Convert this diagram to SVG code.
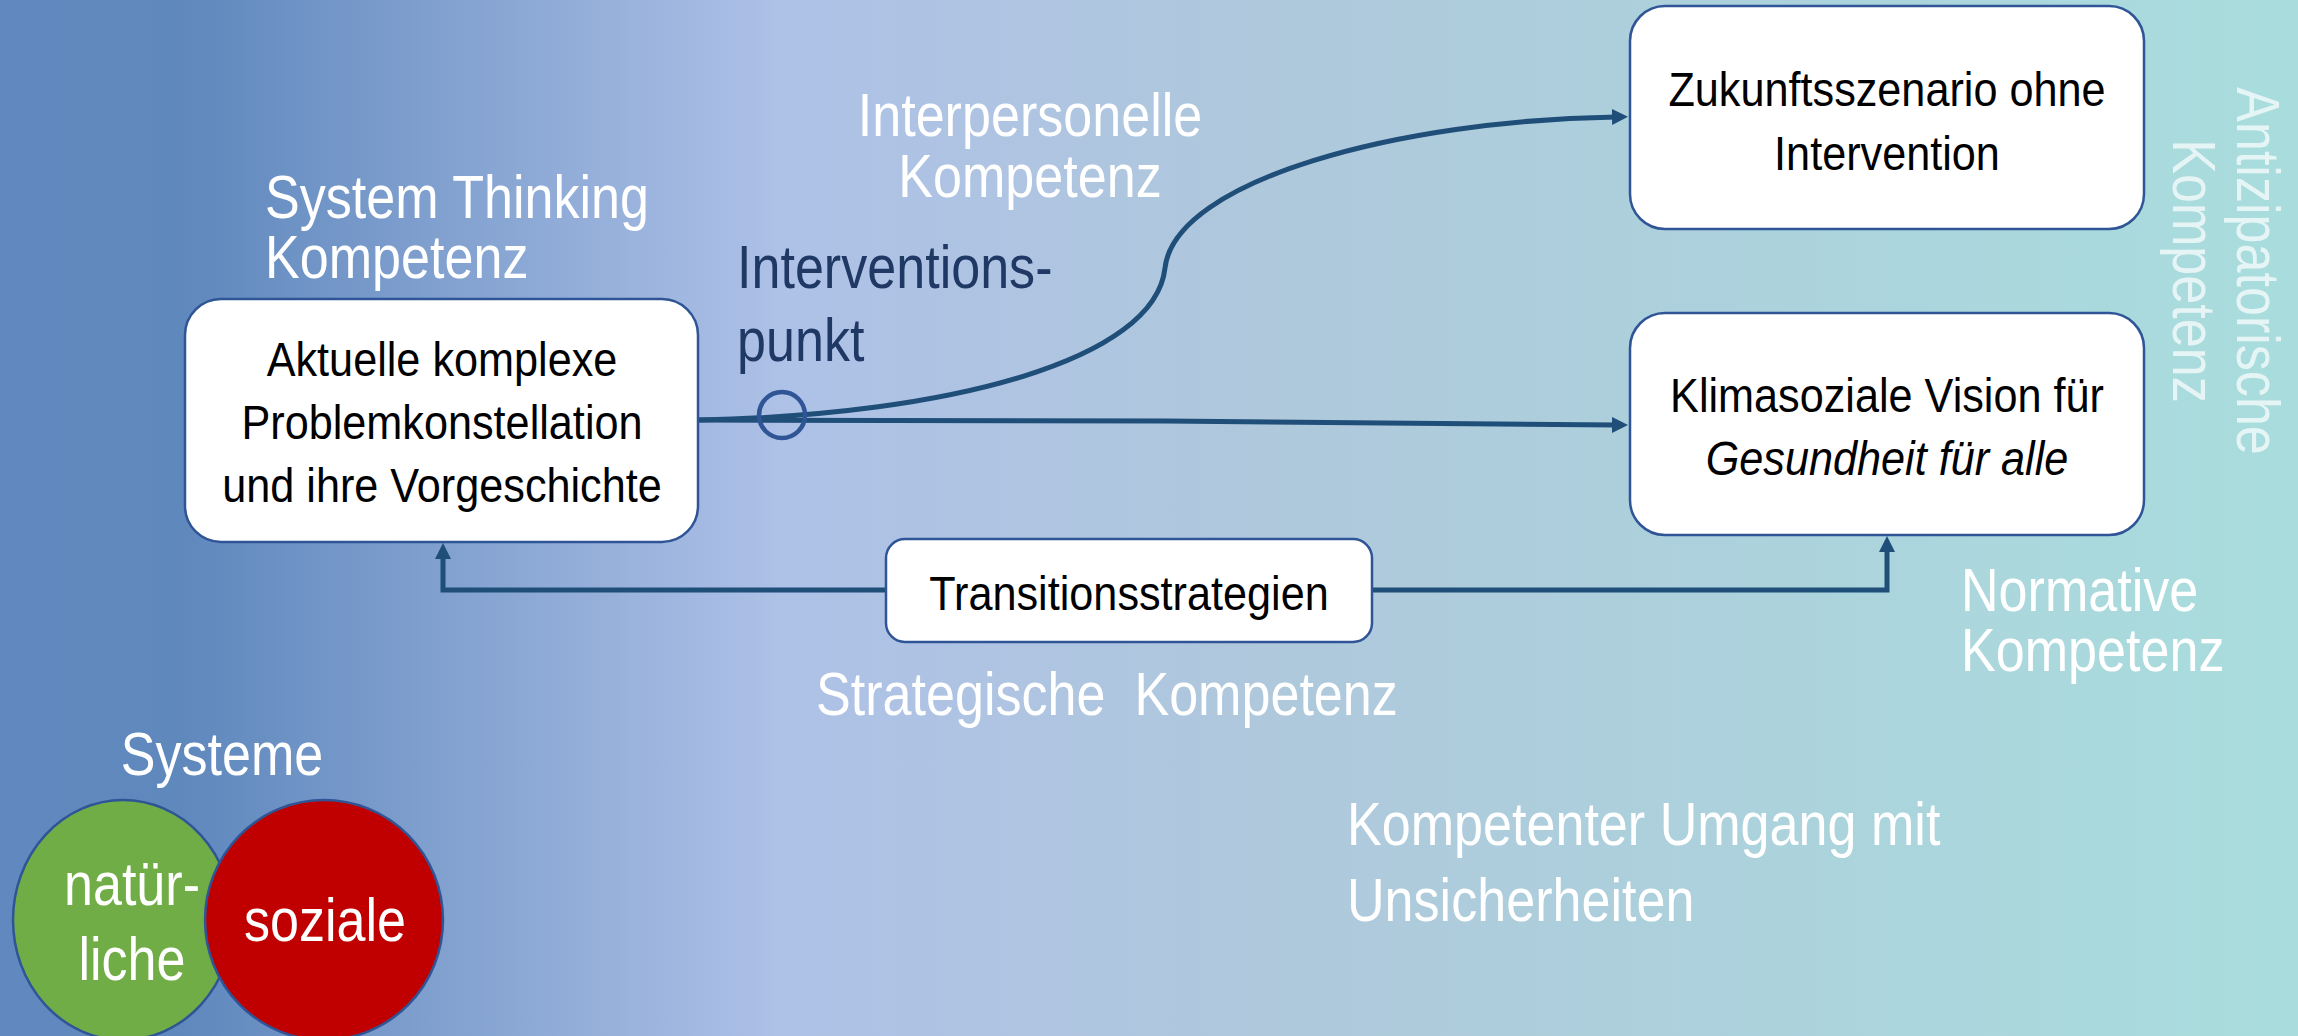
<svg xmlns="http://www.w3.org/2000/svg" width="2298" height="1036" viewBox="0 0 2298 1036">
<defs>
<linearGradient id="bg" x1="0" y1="0" x2="1" y2="0">
<stop offset="0" stop-color="#6189bf"/>
<stop offset="0.08" stop-color="#5f88bd"/>
<stop offset="0.34" stop-color="#aec1e7"/>
<stop offset="0.55" stop-color="#afc8dc"/>
<stop offset="1" stop-color="#a9dddd"/>
</linearGradient>
<marker id="arr" viewBox="0 0 16 16" refX="4" refY="8" markerWidth="16" markerHeight="16" markerUnits="userSpaceOnUse" orient="auto">
<path d="M0,0 L16,8 L0,16 z" fill="#1f4e79"/>
</marker>
<style>
.box{fill:#ffffff;stroke:#2f5597;stroke-width:2.5}
.bt{font-family:"Liberation Sans",Arial,sans-serif;font-size:49px;fill:#000000}
.lbl{font-family:"Liberation Sans",Arial,sans-serif;font-size:62px;fill:#ffffff}
.navy{fill:#203864}
.con{fill:none;stroke:#1f4e79;stroke-width:5}
.circ{stroke:#2f5597;stroke-width:2.5}
</style>
</defs>
<rect x="0" y="0" width="2298" height="1036" fill="url(#bg)"/>

<g id="connectors">
<path class="con" d="M699,420 L1165,421 L1616,425" marker-end="url(#arr)"/>
<path class="con" d="M699,420 C950,415 1155,360 1165,268 C1175,180 1400,120 1616,117" marker-end="url(#arr)"/>
<path class="con" d="M886,590 H443 V555" marker-end="url(#arr)"/>
<path class="con" d="M1372,590 H1887 V548" marker-end="url(#arr)"/>
</g>

<g id="intervention-point">
<circle cx="782" cy="415" r="23" fill="none" stroke="#2f5597" stroke-width="4.5"/>
<text class="lbl navy" transform="translate(737,0) scale(0.84,1)"><tspan x="0" y="288">Interventions-</tspan><tspan x="0" y="361">punkt</tspan></text>
</g>

<g id="node-aktuelle">
<rect class="box" x="185" y="299" width="513" height="243" rx="36"/>
<text class="bt" text-anchor="middle" transform="translate(442,0) scale(0.882,1)"><tspan x="0" y="376">Aktuelle komplexe</tspan><tspan x="0" y="439">Problemkonstellation</tspan><tspan x="0" y="502">und ihre Vorgeschichte</tspan></text>
</g>

<g id="node-zukunft">
<rect class="box" x="1630" y="6" width="514" height="223" rx="35"/>
<text class="bt" text-anchor="middle" transform="translate(1887,0) scale(0.882,1)"><tspan x="0" y="106">Zukunftsszenario ohne</tspan><tspan x="0" y="170">Intervention</tspan></text>
</g>

<g id="node-klima">
<rect class="box" x="1630" y="313" width="514" height="222" rx="35"/>
<text class="bt" text-anchor="middle" transform="translate(1887,0) scale(0.882,1)"><tspan x="0" y="412">Klimasoziale Vision für</tspan><tspan x="0" y="475" font-style="italic">Gesundheit für alle</tspan></text>
</g>

<g id="node-transition">
<rect class="box" x="886" y="539" width="486" height="103" rx="19"/>
<text class="bt" text-anchor="middle" transform="translate(1129,0) scale(0.882,1)"><tspan x="0" y="610">Transitionsstrategien</tspan></text>
</g>

<g id="labels">
<text class="lbl" transform="translate(265,0) scale(0.84,1)"><tspan x="0" y="218">System Thinking</tspan><tspan x="0" y="278">Kompetenz</tspan></text>
<text class="lbl" text-anchor="middle" transform="translate(1030,0) scale(0.84,1)"><tspan x="0" y="136">Interpersonelle</tspan><tspan x="0" y="197">Kompetenz</tspan></text>
<text class="lbl" transform="translate(816,0) scale(0.84,1)" xml:space="preserve"><tspan x="0" y="715">Strategische  Kompetenz</tspan></text>
<text class="lbl" transform="translate(1961,0) scale(0.84,1)"><tspan x="0" y="611">Normative</tspan><tspan x="0" y="671">Kompetenz</tspan></text>
<text class="lbl" transform="translate(1347,0) scale(0.84,1)"><tspan x="0" y="845">Kompetenter Umgang mit</tspan><tspan x="0" y="921">Unsicherheiten</tspan></text>
<text class="lbl" text-anchor="middle" fill-opacity="0.7" transform="translate(2237,271) rotate(90) scale(0.84,1)"><tspan x="0" y="0">Antizipatorische</tspan><tspan x="0" y="64">Kompetenz</tspan></text>
</g>

<g id="systeme">
<text class="lbl" text-anchor="middle" transform="translate(222,0) scale(0.84,1)"><tspan x="0" y="775">Systeme</tspan></text>
</g>
<g id="node-natuerliche">
<ellipse class="circ" cx="123" cy="920" rx="110" ry="120" fill="#70ad47"/>
<text class="lbl" text-anchor="middle" transform="translate(132,0) scale(0.84,1)"><tspan x="0" y="905">natür-</tspan><tspan x="0" y="980">liche</tspan></text>
</g>
<g id="node-soziale">
<ellipse class="circ" cx="324" cy="920" rx="119" ry="120" fill="#c00000"/>
<text class="lbl" text-anchor="middle" transform="translate(325,0) scale(0.84,1)"><tspan x="0" y="941">soziale</tspan></text>
</g>
</svg>
